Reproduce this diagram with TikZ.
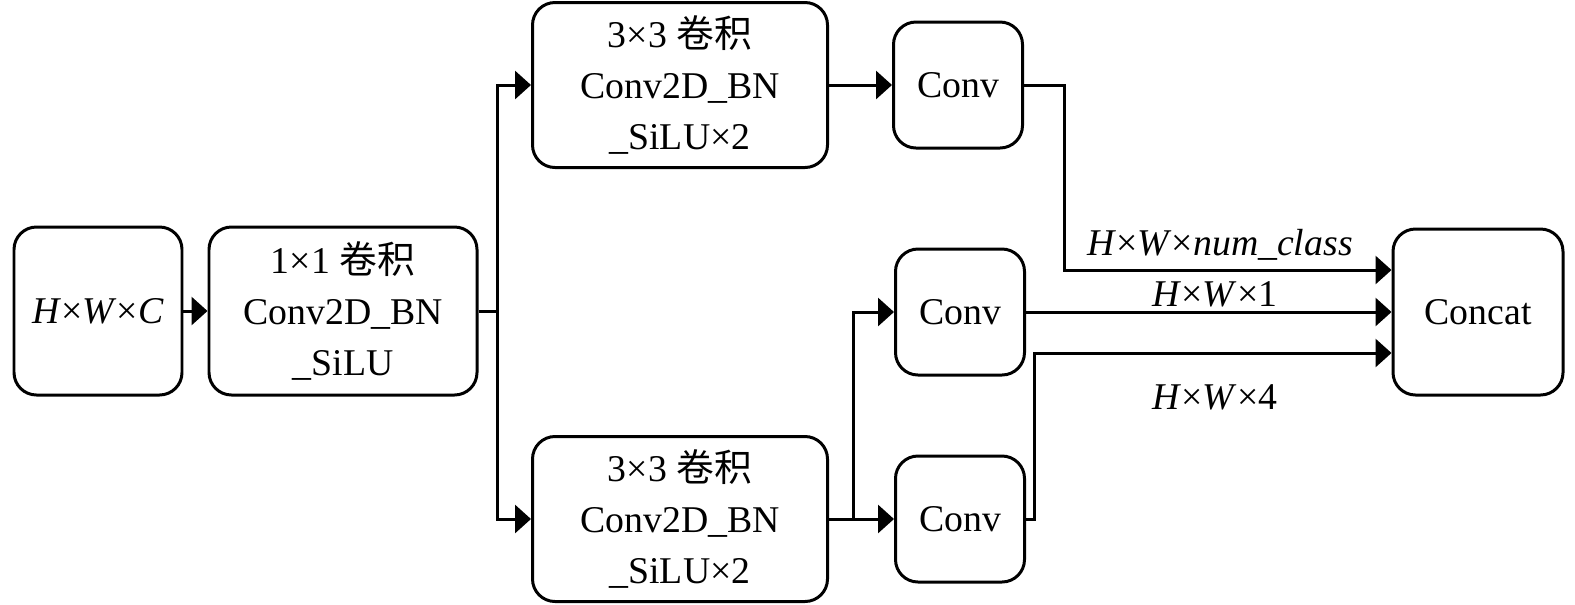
\documentclass[tikz,border=0pt]{standalone}
\usepackage{fontspec}
\setmainfont{Liberation Serif}
\newfontfamily\cjk{Noto Sans CJK SC}
\usepackage{tikz}
\usetikzlibrary{arrows.meta, positioning}

\begin{document}
\begin{tikzpicture}[
    block/.style={draw, rounded corners=0.45cm, line width=1.7pt, align=center, inner sep=0pt, font=\fontsize{21.5}{29}\selectfont},
    conv/.style={block, minimum width=2.58cm, minimum height=2.52cm},
    big/.style={block, minimum width=5.9cm, minimum height=3.3cm},
    arrow/.style={-{Triangle[length=0.32cm, width=0.56cm]}, line width=1.7pt},
    link/.style={line width=1.7pt},
    dimlabel/.style={font=\fontsize{21.5}{29}\selectfont}
]
    \useasboundingbox (0,0) rectangle (31.5,-12.08);

    % Input and 1x1 conv
    \node[block, minimum width=3.36cm, minimum height=3.36cm] (in) at (1.96,-6.22) {\textit{H}×\textit{W}×\textit{C}};
    \node[block, minimum width=5.36cm, minimum height=3.36cm] (c1) at (6.86,-6.22) {1×1 {\cjk 卷积}\\Conv2D\_BN\\\_SiLU};
    \draw[arrow] (in) -- (c1);

    % Two 3x3 branches
    \node[big] (top3) at (13.6,-1.7) {3×3 {\cjk 卷积}\\Conv2D\_BN\\\_SiLU×2};
    \node[big] (bot3) at (13.6,-10.38) {3×3 {\cjk 卷积}\\Conv2D\_BN\\\_SiLU×2};
    \coordinate (split) at (9.94,-6.22);
    \draw[link] (c1) -- (split);
    \draw[arrow] (split) |- (top3.west);
    \draw[arrow] (split) |- (bot3.west);

    % Conv heads
    \node[conv] (topconv) at (19.16,-1.7) {Conv};
    \node[conv] (midconv) at (19.2,-6.24) {Conv};
    \node[conv] (botconv) at (19.2,-10.38) {Conv};
    \draw[arrow] (top3) -- (topconv);
    \draw[arrow] (bot3) -- (botconv);
    \coordinate (branch) at (17.06,-10.38);
    \draw[arrow] (branch) |- (midconv.west);

    % Concat
    \node[block, minimum width=3.4cm, minimum height=3.32cm] (concat) at (29.56,-6.24) {Concat};
    \draw[arrow] (topconv.east) -- ++(0.81,0) |- ([yshift=0.84cm]concat.west);
    \draw[arrow] (midconv) -- (concat);
    \draw[arrow] (botconv.east) -- ++(0.17,0) |- ([yshift=-0.82cm]concat.west);

    % Output sizes
    \node[dimlabel] (lcls) at (24.4,-4.9) {\textit{H}×\textit{W}×\textit{num\_class}};
    \node[dimlabel] (lobj) at (24.3,-5.88) {\textit{H}×\textit{W}×1};
    \node[dimlabel] (lbox) at (24.3,-7.94) {\textit{H}×\textit{W}×4};
\end{tikzpicture}
\end{document}
